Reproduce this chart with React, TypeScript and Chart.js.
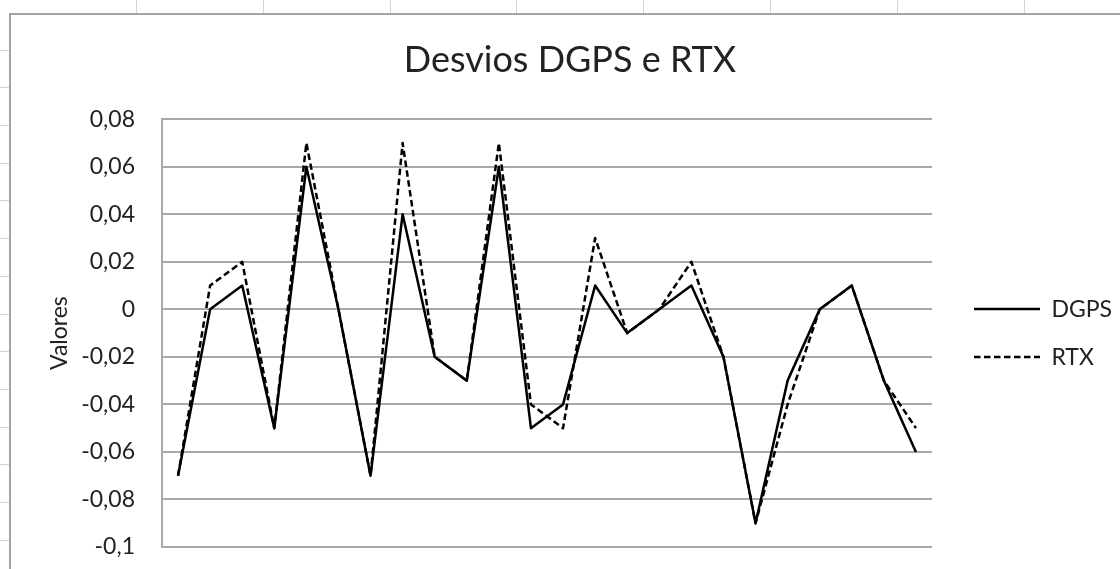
import React, { useEffect, useRef } from 'react';
import { Chart, registerables } from 'chart.js';

Chart.register(...registerables);

// ---- data ----
const categories = ['1', '2', '3', '4', '5', '6', '7', '8', '9', '10', '11', '12', '13', '14', '15', '16', '17', '18', '19', '20', '21', '22', '23', '24'];
const dgpsValues = [-0.07, 0, 0.01, -0.05, 0.06, 0, -0.07, 0.04, -0.02, -0.03, 0.06, -0.05, -0.04, 0.01, -0.01, 0, 0.01, -0.02, -0.09, -0.03, 0, 0.01, -0.03, -0.06];
const rtxValues = [-0.07, 0.01, 0.02, -0.05, 0.07, 0, -0.07, 0.07, -0.02, -0.03, 0.07, -0.04, -0.05, 0.03, -0.01, 0, 0.02, -0.02, -0.09, -0.04, 0, 0.01, -0.03, -0.05];
const yTickLabels = ['-0,1', '-0,08', '-0,06', '-0,04', '-0,02', '0', '0,02', '0,04', '0,06', '0,08'];
const seriesNames = ['DGPS', 'RTX'];
const chartTitle = 'Desvios DGPS e RTX';
const yAxisTitle = 'Valores';

// ---- layout constants (canvas coordinates) ----
const CANVAS_LEFT = 10;
const CANVAS_TOP = 15;
const CANVAS_W = 1120;
const CANVAS_H = 577;
const TITLE_CENTER_X = 560;
const LEGEND_PAD = 25;
const LEGEND_LEFT_X = 964 - LEGEND_PAD;
const TEXT_COLOR = '#222222';
const GRID_COLOR = '#a8a8a8';
const FONT = 'Lato';
const LABEL_SIZE = 23;

const nudgePlugin = {
  id: 'nudge',
  afterLayout(chart: any) {
    const t = chart.titleBlock;
    if (t) {
      const dx = TITLE_CENTER_X - (t.left + t.right) / 2;
      t.left += dx;
      t.right += dx;
    }
    const l = chart.legend;
    if (l) {
      l.left = LEGEND_LEFT_X;
      l.right = CANVAS_W;
      l.width = l.right - l.left;
    }
  },
};

function ChartCanvas() {
  const ref = useRef<HTMLCanvasElement | null>(null);
  useEffect(() => {
    if (!ref.current) return;
    const chart = new Chart(ref.current, {
      type: 'line',
      data: {
        labels: categories,
        datasets: [
          {
            label: seriesNames[0],
            data: dgpsValues,
            borderColor: '#000000',
            backgroundColor: '#000000',
            borderWidth: 2.5,
            pointRadius: 0,
            pointHoverRadius: 0,
            pointStyle: 'line',
            tension: 0,
            fill: false,
            borderJoinStyle: 'round',
            order: 1,
          },
          {
            label: seriesNames[1],
            data: rtxValues,
            borderColor: '#000000',
            backgroundColor: '#000000',
            borderWidth: 2.5,
            borderDash: [6.5, 3.5],
            pointRadius: 0,
            pointHoverRadius: 0,
            pointStyle: 'line',
            tension: 0,
            fill: false,
            borderJoinStyle: 'round',
            order: 0,
          },
        ],
      },
      options: {
        responsive: false,
        animation: false,
        devicePixelRatio: 1,
        layout: { padding: { left: 0, right: 48, top: 0, bottom: 45 } },
        scales: {
          x: {
            display: false,
            offset: true,
          },
          y: {
            min: -0.1,
            max: 0.08,
            ticks: {
              stepSize: 0.02,
              padding: 27,
              color: TEXT_COLOR,
              font: { family: FONT, size: LABEL_SIZE },
              callback: (_v: any, i: number) => yTickLabels[i] ?? '',
            },
            grid: { color: GRID_COLOR, lineWidth: 2, drawTicks: false },
            border: { display: true, color: GRID_COLOR, width: 2 },
            title: {
              display: true,
              text: yAxisTitle,
              color: TEXT_COLOR,
              font: { family: FONT, size: LABEL_SIZE },
              padding: { top: 36, bottom: 0 },
            },
            afterFit: (scale: any) => {
              scale.width = 152;
            },
          },
        },
        plugins: {
          title: {
            display: true,
            text: chartTitle,
            color: TEXT_COLOR,
            font: { family: FONT, size: 36, weight: 'normal' },
            padding: { top: 24, bottom: 37 },
          },
          legend: {
            display: true,
            position: 'right',
            fullSize: false,
            maxWidth: 150,
            labels: {
              usePointStyle: true,
              pointStyle: 'line',
              pointStyleWidth: 66,
              padding: LEGEND_PAD,
              color: TEXT_COLOR,
              textAlign: 'left',
              font: { family: FONT, size: LABEL_SIZE },
              sort: (a: any, b: any) => a.datasetIndex - b.datasetIndex,
              generateLabels: (ch: any) => {
                const items = (Chart.defaults as any).plugins.legend.labels.generateLabels(ch);
                return items.map((it: any) => {
                  const ds = ch.data.datasets[it.datasetIndex];
                  return {
                    ...it,
                    lineDash: ds.borderDash || [],
                    lineWidth: ds.borderWidth,
                    strokeStyle: ds.borderColor,
                    pointStyle: 'line',
                  };
                });
              },
            },
          },
          tooltip: { enabled: false },
        },
      },
      plugins: [nudgePlugin],
    } as any);
    return () => chart.destroy();
  }, []);
  return (
    <canvas
      ref={ref}
      width={CANVAS_W}
      height={CANVAS_H}
      style={{ position: 'absolute', left: CANVAS_LEFT, top: CANVAS_TOP, width: CANVAS_W, height: CANVAS_H }}
    />
  );
}

export default function App() {
  const colLines: number[] = [];
  for (let i = 0; i < 8; i++) colLines.push(136 + i * 126.8);
  const rowTicks: number[] = [];
  for (let i = 0; i < 14; i++) rowTicks.push(49.6 + i * 37.7);
  return (
    <div style={{ position: 'fixed', left: 0, top: 0, width: 1120, height: 569, overflow: 'hidden', background: '#ffffff' }}>
      {colLines.map((x, i) => (
        <div key={'c' + i} style={{ position: 'absolute', left: x, top: 0, width: 1, height: 13, background: '#d4d4d4' }} />
      ))}
      {rowTicks.map((y, i) => (
        <div key={'r' + i} style={{ position: 'absolute', left: 0, top: y, width: 9, height: 1, background: '#d4d4d4' }} />
      ))}
      <div
        style={{
          position: 'absolute',
          left: 9,
          top: 13,
          width: 1200,
          height: 700,
          background: '#ffffff',
          borderLeft: '2px solid #a4a4a4',
          borderTop: '2px solid #a4a4a4',
        }}
      />
      <ChartCanvas />
    </div>
  );
}
